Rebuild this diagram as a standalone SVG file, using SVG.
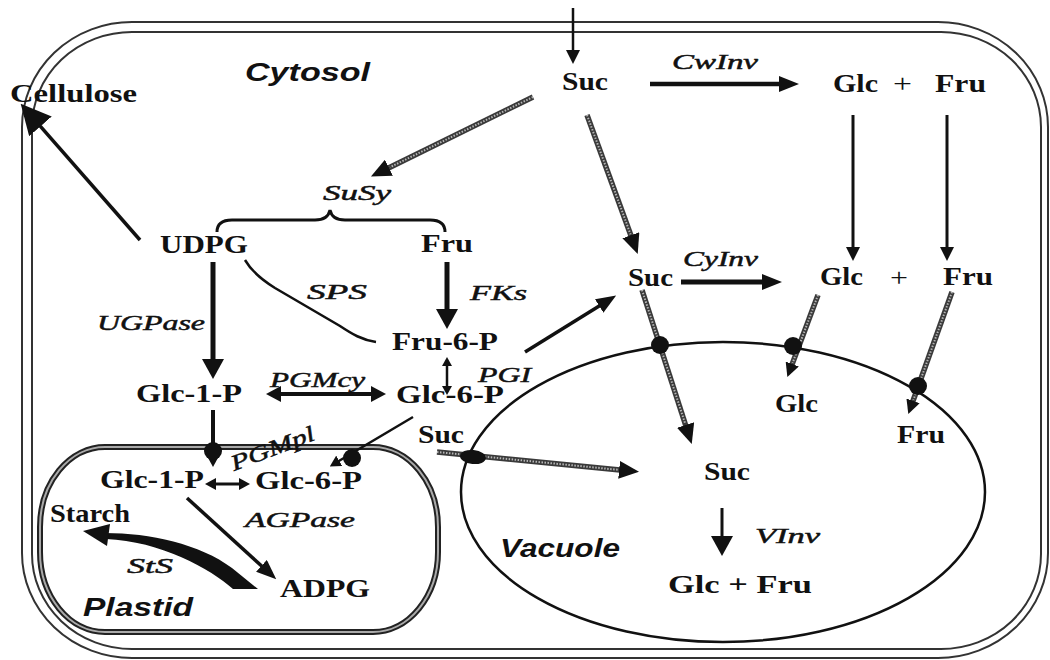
<svg xmlns="http://www.w3.org/2000/svg" width="1050" height="660" viewBox="0 0 1050 660">
<style>
.m{font-family:"Liberation Serif","Times New Roman",serif;font-weight:bold;font-size:26px;fill:#111}
.e{font-family:"Liberation Serif","Times New Roman",serif;font-style:italic;font-size:22px;fill:#111;stroke:#111;stroke-width:0.5}
.r{font-family:"Liberation Sans",Arial,sans-serif;font-weight:bold;font-style:italic;font-size:25px;fill:#111}
.pl{font-family:"Liberation Serif","Times New Roman",serif;font-size:26px;fill:#111}
.wall{fill:none;stroke:#333;stroke-width:2}
.k{fill:none;stroke:#111;stroke-linecap:butt}
.go{fill:none;stroke:#3a3a3a;stroke-width:5.5}
.gi{fill:none;stroke:#b5b5b5;stroke-width:2;stroke-dasharray:1.5 1.5}
.dot{fill:#111}
</style>
<defs>
<marker id="m1" markerUnits="userSpaceOnUse" viewBox="0 -8 20 16" markerWidth="20" markerHeight="16" refX="1" refY="0" orient="auto"><path d="M0,-8L20,0L0,8z" fill="#111"/></marker>
<marker id="m2" markerUnits="userSpaceOnUse" viewBox="0 -11 20 22" markerWidth="20" markerHeight="22" refX="1" refY="0" orient="auto"><path d="M0,-11L20,0L0,11z" fill="#111"/></marker>
<marker id="m3" markerUnits="userSpaceOnUse" viewBox="0 -7 14 14" markerWidth="14" markerHeight="14" refX="1" refY="0" orient="auto"><path d="M0,-7L14,0L0,7z" fill="#111"/></marker>
<marker id="m4" markerUnits="userSpaceOnUse" viewBox="0 -6 11 12" markerWidth="11" markerHeight="12" refX="1" refY="0" orient="auto-start-reverse"><path d="M0,-6L11,0L0,6z" fill="#111"/></marker>
<marker id="m5" markerUnits="userSpaceOnUse" viewBox="0 -8 15 16" markerWidth="15" markerHeight="16" refX="1" refY="0" orient="auto-start-reverse"><path d="M0,-8L15,0L0,8z" fill="#111"/></marker>
<marker id="m6" markerUnits="userSpaceOnUse" viewBox="0 -5 9 10" markerWidth="9" markerHeight="10" refX="1" refY="0" orient="auto-start-reverse"><path d="M0,-5L9,0L0,5z" fill="#111"/></marker>
<marker id="mB" markerUnits="userSpaceOnUse" viewBox="0 -15 30 30" markerWidth="30" markerHeight="30" refX="1" refY="0" orient="auto"><path d="M0,-15L30,0L0,15z" fill="#111"/></marker>
<marker id="mG" markerUnits="userSpaceOnUse" viewBox="0 -9 20 18" markerWidth="20" markerHeight="18" refX="1" refY="0" orient="auto"><path d="M0,-9L20,0L0,9z" fill="#111"/></marker>
</defs>
<rect width="1050" height="660" fill="#fff"/>

<g id="cell-wall">
<rect class="wall" x="22" y="22" width="1026" height="636" rx="110" ry="105"/>
<rect class="wall" x="32" y="32" width="1009" height="617" rx="100" ry="95"/>
</g>

<g id="plastid">
<rect x="40" y="447" width="398" height="185" rx="65" ry="80" fill="none" stroke="#222" stroke-width="6"/>
<rect x="40" y="447" width="398" height="185" rx="65" ry="80" fill="none" stroke="#aaa" stroke-width="2"/>
<text class="r" x="83" y="616" textLength="110" lengthAdjust="spacingAndGlyphs">Plastid</text>
</g>

<g id="vacuole">
<ellipse cx="723" cy="492" rx="262" ry="150" fill="none" stroke="#111" stroke-width="2.5"/>
<text class="r" x="500" y="557" font-size="26" textLength="120" lengthAdjust="spacingAndGlyphs">Vacuole</text>
</g>

<g id="cytosol-label"><text class="r" x="245" y="81" textLength="125" lengthAdjust="spacingAndGlyphs">Cytosol</text></g>

<g id="connectors">
<line class="k" x1="573" y1="8" x2="573" y2="51" stroke-width="2.5" marker-end="url(#m3)"/>
<line class="k" x1="650" y1="84" x2="780" y2="84" stroke-width="4.5" marker-end="url(#m1)"/>
<line class="k" x1="853" y1="115" x2="853" y2="248" stroke-width="3" marker-end="url(#m3)"/>
<line class="k" x1="947" y1="115" x2="947" y2="248" stroke-width="3" marker-end="url(#m3)"/>
<line class="k" x1="681" y1="282" x2="763" y2="282" stroke-width="5" marker-end="url(#m1)"/>
<line class="k" x1="213" y1="262" x2="213" y2="360" stroke-width="5" marker-end="url(#m2)"/>
<line class="k" x1="447" y1="262" x2="447" y2="310" stroke-width="5" marker-end="url(#m2)"/>
<line class="k" x1="525" y1="352" x2="600" y2="305.5" stroke-width="3.5" marker-end="url(#m1)"/>
<line class="k" x1="722" y1="508" x2="722" y2="537" stroke-width="3" marker-end="url(#m2)"/>
<line class="k" x1="280" y1="394" x2="372" y2="394" stroke-width="4" marker-start="url(#m5)" marker-end="url(#m5)"/>
<line class="k" x1="447" y1="365" x2="447" y2="387" stroke-width="2.5" marker-start="url(#m6)" marker-end="url(#m6)"/>
<line class="k" x1="215" y1="484" x2="240" y2="484" stroke-width="3" marker-start="url(#m4)" marker-end="url(#m4)"/>
<line class="k" x1="213" y1="410" x2="213" y2="457" stroke-width="4" marker-end="url(#m4)"/>
<line class="k" x1="413" y1="417" x2="338.4" y2="461.3" stroke-width="2.5" marker-end="url(#m4)"/>
<line class="k" x1="140" y1="240" x2="39.8" y2="125.6" stroke-width="3.5" marker-end="url(#mB)"/>
<line class="k" x1="187" y1="498" x2="262.2" y2="566.5" stroke-width="3.5" marker-end="url(#m1)"/>
<path class="k" d="M245,260 C252,272 262,280 275,288 L340,326 C352,334 362,340 376,342" stroke-width="2.5"/>
<path class="k" d="M217,232 Q217,220 232,220 L315,220 Q328,220 330,210 Q332,220 345,220 L430,220 Q445,220 445,232" stroke-width="3"/>
<path d="M105,533 C150,533 200,544 232,568 L258,589 L233,589 C211,569 160,541 106,539 Z" fill="#111"/>
<polygon points="83,531 110,524 107,546" fill="#111"/>
<line class="go" x1="533" y1="97" x2="388" y2="168.2" marker-end="url(#mG)"/>
<line class="gi" x1="533" y1="97" x2="390" y2="167.2"/>
<line class="go" x1="587" y1="115" x2="631.2" y2="236.2" marker-end="url(#mG)"/>
<line class="gi" x1="587" y1="115" x2="630.5" y2="234.3"/>
<line class="go" x1="642" y1="290" x2="685.9" y2="426" marker-end="url(#mG)"/>
<line class="gi" x1="642" y1="290" x2="685.3" y2="424"/>
<line class="go" x1="818" y1="295" x2="791.9" y2="364.9" marker-end="url(#m3)"/>
<line class="gi" x1="818" y1="295" x2="792.6" y2="363"/>
<line class="go" x1="952" y1="292" x2="912.7" y2="401.8" marker-end="url(#m3)"/>
<line class="gi" x1="952" y1="292" x2="913.4" y2="400"/>
<line class="go" x1="437" y1="452" x2="620.1" y2="470" stroke-width="4" marker-end="url(#mG)"/>
<line class="gi" x1="437" y1="452" x2="618" y2="469.8" stroke-width="1.5"/>
<circle class="dot" cx="213" cy="451" r="9"/>
<circle class="dot" cx="352" cy="458" r="9"/>
<ellipse class="dot" cx="473" cy="457" rx="13" ry="7" transform="rotate(6 473 457)"/>
<circle class="dot" cx="660" cy="345" r="9"/>
<circle class="dot" cx="793" cy="346" r="9"/>
<circle class="dot" cx="918" cy="386" r="9"/>
</g>

<g id="cellulose"><text class="m" x="10" y="102" font-size="25" textLength="127" lengthAdjust="spacingAndGlyphs">Cellulose</text></g>
<g id="suc-apoplast"><text class="m" x="562" y="90" textLength="46" lengthAdjust="spacingAndGlyphs">Suc</text></g>
<g id="cwinv"><text class="e" x="672" y="69" font-size="21" textLength="86" lengthAdjust="spacingAndGlyphs">CwInv</text></g>
<g id="glc-fru-apoplast">
<text class="m" x="833" y="92" textLength="45" lengthAdjust="spacingAndGlyphs">Glc</text>
<text class="pl" x="893" y="92" textLength="19" lengthAdjust="spacingAndGlyphs">+</text>
<text class="m" x="935" y="92" textLength="51" lengthAdjust="spacingAndGlyphs">Fru</text>
</g>
<g id="susy"><text class="e" x="323" y="200" textLength="68" lengthAdjust="spacingAndGlyphs">SuSy</text></g>
<g id="udpg"><text class="m" x="160" y="253" textLength="88" lengthAdjust="spacingAndGlyphs">UDPG</text></g>
<g id="fru-cyt"><text class="m" x="421" y="252" textLength="52" lengthAdjust="spacingAndGlyphs">Fru</text></g>
<g id="suc-cyt"><text class="m" x="628" y="286" textLength="45" lengthAdjust="spacingAndGlyphs">Suc</text></g>
<g id="cyinv"><text class="e" x="683" y="266" font-size="21" textLength="75" lengthAdjust="spacingAndGlyphs">CyInv</text></g>
<g id="glc-fru-cyt">
<text class="m" x="820" y="285" textLength="43" lengthAdjust="spacingAndGlyphs">Glc</text>
<text class="pl" x="890" y="286" textLength="18" lengthAdjust="spacingAndGlyphs">+</text>
<text class="m" x="943" y="285" textLength="50" lengthAdjust="spacingAndGlyphs">Fru</text>
</g>
<g id="ugpase"><text class="e" x="97" y="330" font-size="23" textLength="108" lengthAdjust="spacingAndGlyphs">UGPase</text></g>
<g id="sps"><text class="e" x="307" y="299" font-size="23" textLength="60" lengthAdjust="spacingAndGlyphs">SPS</text></g>
<g id="fks"><text class="e" x="470" y="300" font-size="24" textLength="57" lengthAdjust="spacingAndGlyphs">FKs</text></g>
<g id="fru6p"><text class="m" x="392" y="350" textLength="106" lengthAdjust="spacingAndGlyphs">Fru-6-P</text></g>
<g id="pgi"><text class="e" x="478" y="382" font-size="25" textLength="53" lengthAdjust="spacingAndGlyphs">PGI</text></g>
<g id="glc1p-cyt"><text class="m" x="136" y="402" textLength="106" lengthAdjust="spacingAndGlyphs">Glc-1-P</text></g>
<g id="pgmcy"><text class="e" x="270" y="387" textLength="95" lengthAdjust="spacingAndGlyphs">PGMcy</text></g>
<g id="glc6p-cyt"><text class="m" x="396" y="403" textLength="108" lengthAdjust="spacingAndGlyphs">Glc-6-P</text></g>
<g id="suc-cyt2"><text class="m" x="418" y="443" textLength="46" lengthAdjust="spacingAndGlyphs">Suc</text></g>
<g id="glc1p-pl"><text class="m" x="100" y="488" textLength="104" lengthAdjust="spacingAndGlyphs">Glc-1-P</text></g>
<g id="pgmpl"><text class="e" x="234" y="471" textLength="88" lengthAdjust="spacingAndGlyphs" transform="rotate(-21 234 471)">PGMpl</text></g>
<g id="glc6p-pl"><text class="m" x="255" y="489" textLength="107" lengthAdjust="spacingAndGlyphs">Glc-6-P</text></g>
<g id="starch"><text class="m" x="50" y="522" textLength="80" lengthAdjust="spacingAndGlyphs">Starch</text></g>
<g id="agpase"><text class="e" x="245" y="527" textLength="110" lengthAdjust="spacingAndGlyphs">AGPase</text></g>
<g id="sts"><text class="e" x="127" y="573" textLength="46" lengthAdjust="spacingAndGlyphs">StS</text></g>
<g id="adpg"><text class="m" x="280" y="597" textLength="90" lengthAdjust="spacingAndGlyphs">ADPG</text></g>
<g id="glc-vac"><text class="m" x="775" y="412" textLength="43" lengthAdjust="spacingAndGlyphs">Glc</text></g>
<g id="fru-vac"><text class="m" x="897" y="443" textLength="48" lengthAdjust="spacingAndGlyphs">Fru</text></g>
<g id="suc-vac"><text class="m" x="704" y="480" textLength="46" lengthAdjust="spacingAndGlyphs">Suc</text></g>
<g id="vinv"><text class="e" x="755" y="543" font-size="24" textLength="65" lengthAdjust="spacingAndGlyphs">VInv</text></g>
<g id="glc-fru-vac"><text class="m" x="668" y="593" textLength="144" lengthAdjust="spacingAndGlyphs">Glc + Fru</text></g>
</svg>
